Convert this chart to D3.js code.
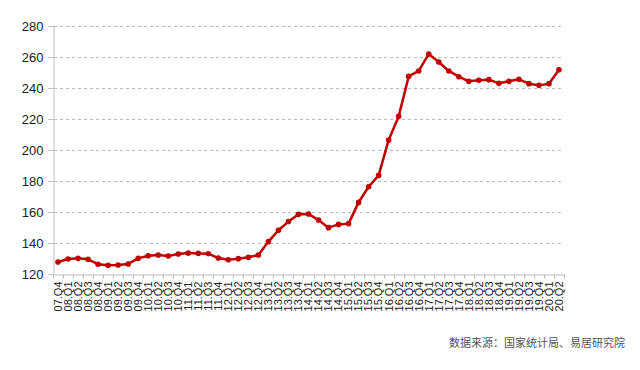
<!DOCTYPE html>
<html><head><meta charset="utf-8">
<script src="https://cdn.jsdelivr.net/npm/d3@7"></script>
<style>body{margin:0;background:#fff;} svg{display:block;}</style>
</head><body>
<svg id="c" width="640" height="370"></svg>
<script>
const categories = ["07.Q4","08.Q1","08.Q2","08.Q3","08.Q4","09.Q1","09.Q2","09.Q3","09.Q4",
"10.Q1","10.Q2","10.Q3","10.Q4","11.Q1","11.Q2","11.Q3","11.Q4","12.Q1","12.Q2","12.Q3","12.Q4",
"13.Q1","13.Q2","13.Q3","13.Q4","14.Q1","14.Q2","14.Q3","14.Q4","15.Q1","15.Q2","15.Q3","15.Q4",
"16.Q1","16.Q2","16.Q3","16.Q4","17.Q1","17.Q2","17.Q3","17.Q4","18.Q1","18.Q2","18.Q3","18.Q4",
"19.Q1","19.Q2","19.Q3","19.Q4","20.Q1","20.Q2"];
const values = [127.7,129.7,130.1,129.5,126.3,125.6,125.8,126.5,130.1,
131.8,132.3,131.6,132.9,133.5,133.3,133.1,130.3,129.2,129.9,130.8,132.3,
140.9,148.2,153.8,158.5,158.7,154.8,149.9,152.0,152.5,166.2,176.3,183.6,
206.5,221.7,247.5,251.0,261.9,256.8,251.0,247.3,244.3,245.0,245.4,243.0,
244.3,245.6,242.8,241.7,242.8,251.8];
const yTicks = [120,140,160,180,200,220,240,260,280];
const sourceText = "数据来源：国家统计局、易居研究院";

(function () {
const svg = d3.select("#c");
const mLeft = 53, mRight = 564, mTop = 26, mBottom = 274;
const x = d3.scaleBand().domain(categories).range([mLeft, mRight]);
const y = d3.scaleLinear().domain([120, 280]).range([mBottom, mTop]);

// grid
svg.append("g").selectAll("line").data(yTicks.filter(d => d > 120)).join("line")
  .attr("x1", mLeft - 5).attr("x2", mRight)
  .attr("y1", d => Math.round(y(d)) + 0.5).attr("y2", d => Math.round(y(d)) + 0.5)
  .attr("stroke", "#b8b8b8").attr("stroke-width", 1).attr("stroke-dasharray", "3,3");

// y axis
const ya = svg.append("g").attr("transform", `translate(${mLeft + 0.5},0)`)
  .call(d3.axisLeft(y).tickValues(yTicks).tickSize(5).tickPadding(5));
ya.select(".domain").attr("stroke", "#bfbfbf");
ya.selectAll(".tick line").attr("stroke", "#bfbfbf");
ya.selectAll(".tick text").attr("font-family", "Liberation Sans, Arial, sans-serif")
  .attr("font-size", 13).attr("fill", "#222");

// x axis
const xa = svg.append("g").attr("transform", `translate(0,${mBottom + 0.5})`)
  .call(d3.axisBottom(x).tickSize(0).tickPadding(0));
xa.select(".domain").attr("stroke", "#bfbfbf");
xa.selectAll(".tick line").remove();
xa.selectAll(".tick text")
  .attr("font-family", "Liberation Sans, Arial, sans-serif").attr("font-size", 11).attr("fill", "#222")
  .attr("transform", "rotate(-90)").attr("text-anchor", "end")
  .attr("x", -7).attr("y", 0).attr("dy", "0.35em");
// boundary ticks
const bounds = categories.map(c => x(c)).concat([mRight]);
svg.append("g").selectAll("line").data(bounds).join("line")
  .attr("x1", d => Math.round(d) + 0.5).attr("x2", d => Math.round(d) + 0.5)
  .attr("y1", mBottom).attr("y2", mBottom + 5)
  .attr("stroke", "#bfbfbf");

// line
const cx = (d, i) => x(categories[i]) + x.bandwidth() / 2;
svg.append("path").datum(values)
  .attr("d", d3.line().x(cx).y(d => y(d)))
  .attr("fill", "none").attr("stroke", "#c00000").attr("stroke-width", 2.5).attr("stroke-linejoin", "round");
svg.append("g").selectAll("circle").data(values).join("circle")
  .attr("cx", cx).attr("cy", d => y(d)).attr("r", 2.8).attr("fill", "#c00000");

// source
svg.append("text").attr("x", 625).attr("y", 347).attr("text-anchor", "end")
  .attr("font-family", "Noto Sans CJK SC, sans-serif").attr("font-size", 11).attr("fill", "#555")
  .text(sourceText);
})();
</script>
</body></html>
